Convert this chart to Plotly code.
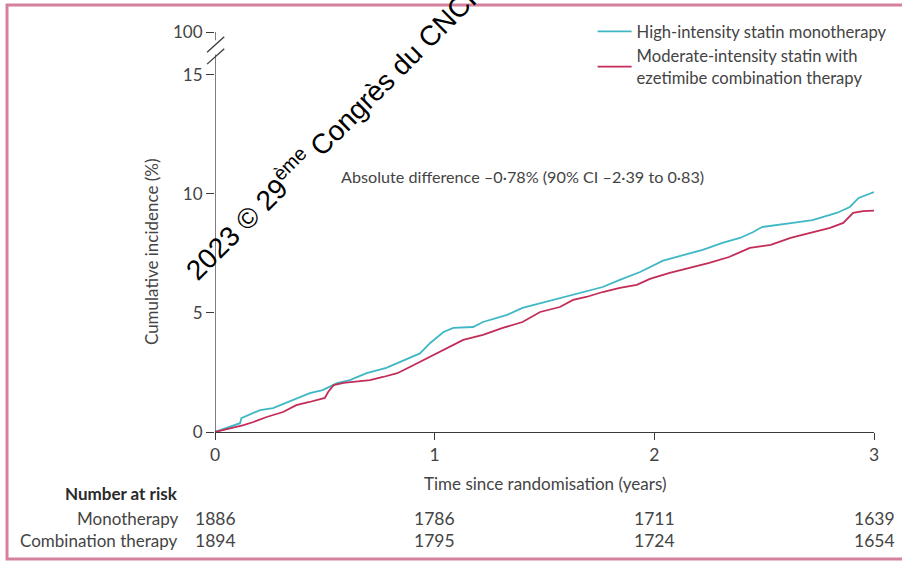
import plotly.graph_objects as go

# Kaplan-Meier style cumulative incidence (%) by treatment arm
mono_t = [0, 0.068, 0.114, 0.12, 0.205, 0.264, 0.355, 0.432, 0.49, 0.555, 0.614, 0.69, 0.78,
          0.887, 0.933, 0.98, 1.04, 1.085, 1.175, 1.22, 1.33, 1.4, 1.49, 1.585, 1.675, 1.765,
          1.843, 1.935, 2.04, 2.13, 2.22, 2.31, 2.39, 2.45, 2.49, 2.63, 2.72, 2.83, 2.89, 2.93, 3.0]
mono_y = [0, 0.22, 0.37, 0.58, 0.92, 1.0, 1.34, 1.63, 1.76, 2.05, 2.18, 2.47, 2.69,
          3.1, 3.3, 3.74, 4.2, 4.37, 4.41, 4.62, 4.92, 5.21, 5.42, 5.67, 5.88, 6.09,
          6.39, 6.72, 7.2, 7.44, 7.65, 7.94, 8.15, 8.4, 8.61, 8.78, 8.9, 9.2, 9.45, 9.83, 10.08]

combo_t = [0, 0.1, 0.13, 0.175, 0.235, 0.31, 0.37, 0.43, 0.5, 0.515, 0.54, 0.585, 0.705, 0.765,
           0.83, 0.887, 0.947, 1.02, 1.056, 1.13, 1.22, 1.31, 1.4, 1.48, 1.57, 1.63, 1.69, 1.765,
           1.843, 1.92, 1.98, 2.07, 2.16, 2.25, 2.34, 2.435, 2.53, 2.62, 2.71, 2.8, 2.86, 2.905,
           2.95, 3.0]
combo_y = [0, 0.22, 0.29, 0.42, 0.63, 0.84, 1.13, 1.26, 1.43, 1.68, 1.97, 2.06, 2.18, 2.31,
           2.47, 2.73, 3.02, 3.36, 3.53, 3.87, 4.08, 4.37, 4.62, 5.04, 5.25, 5.55, 5.67, 5.88,
           6.05, 6.18, 6.43, 6.68, 6.89, 7.1, 7.35, 7.73, 7.86, 8.15, 8.36, 8.57, 8.78, 9.2,
           9.28, 9.3]

series_names = ["High-intensity statin monotherapy",
                "Moderate-intensity statin with<br>ezetimibe combination therapy"]

# Number at risk table
risk_years = [0, 1, 2, 3]
risk_rows = ["Monotherapy", "Combination therapy"]
risk_mono = [1886, 1786, 1711, 1639]
risk_combo = [1894, 1795, 1724, 1654]

# y axis with a break: the top tick stands for 100%
y_tickvals = [0, 5, 10, 15, 16.8]
y_ticktext = ["0", "5", "10", "15", "100"]
x_tickvals = [0, 1, 2, 3]

CYAN = "#3fb7c4"
CRIMSON = "#c22d58"
AXIS = "#3a3a3a"
TXT = "#444444"
FONT = "Lato"

fig = go.Figure()
fig.add_trace(go.Scatter(x=mono_t, y=mono_y, mode="lines",
                         line=dict(color=CYAN, width=1.8), name=series_names[0]))
fig.add_trace(go.Scatter(x=combo_t, y=combo_y, mode="lines",
                         line=dict(color=CRIMSON, width=1.8), name=series_names[1]))


def note(text, x, y, xref="paper", yref="paper", size=17, color=TXT, **kw):
    base = dict(text=text, x=x, y=y, xref=xref, yref=yref, showarrow=False,
                xanchor="center", yanchor="middle",
                font=dict(size=size, color=color, family=FONT))
    base.update(kw)
    return base


annotations = [
    note("Absolute difference –0·78% (90% CI –2·39 to 0·83)", 1.40, 10.75,
         xref="x", yref="y", size=16.2),
    note("Time since randomisation (years)", 0.5, -0.1275, size=17),
    note("Cumulative incidence (%)", -0.097, 0.45, size=17, textangle=-90),
    note("<b>Number at risk</b>", -0.0531, -0.1525, size=17, color="#2a2a2a",
         xanchor="right"),
    dict(text="2023 © 29<sup>ème</sup> Congrès du CNCF", x=0.179, y=0.755,
         xref="paper", yref="paper", textangle=-45, showarrow=False,
         xanchor="center", yanchor="middle",
         font=dict(size=28, color="#000000", family="Liberation Sans")),
]
row_y = [-0.215, -0.27]
for label, counts, yy in zip(risk_rows, [risk_mono, risk_combo], row_y):
    annotations.append(note(label, -0.0531, yy, size=17, xanchor="right"))
    for t, n in zip(risk_years, counts):
        annotations.append(note(str(n), t, yy, xref="x", size=17.5))

# broken y axis line drawn as two segments plus the break slashes
line_style = dict(color=AXIS, width=1.3)
shapes = [
    dict(type="line", xref="x", yref="y", x0=0, x1=0, y0=0, y1=15.85, line=line_style),
    dict(type="line", xref="x", yref="y", x0=0, x1=0, y0=16.45, y1=16.8, line=line_style),
    dict(type="line", xref="paper", yref="y", x0=-0.012, x1=0.014, y0=15.95, y1=16.6,
         line=line_style),
    dict(type="line", xref="paper", yref="y", x0=-0.012, x1=0.014, y0=15.45, y1=16.1,
         line=line_style),
    # frame around the figure
    dict(type="rect", xref="paper", yref="paper", x0=-0.3156, x1=1.05, y0=-0.3175, y1=1.0675,
         line=dict(color="#d5809d", width=3)),
]

fig.update_layout(
    width=902, height=562,
    margin=dict(l=215, r=28, t=32, b=130, autoexpand=False),
    paper_bgcolor="white", plot_bgcolor="white",
    font=dict(family=FONT, color=TXT),
    showlegend=True,
    legend=dict(x=0.573, y=1.045, xanchor="left", yanchor="top", bgcolor="rgba(0,0,0,0)",
                font=dict(size=16.6, color=TXT, family=FONT), tracegroupgap=0,
                itemwidth=34),
    xaxis=dict(range=[0, 3], tickvals=x_tickvals, showline=True, linecolor=AXIS, linewidth=1.3,
               ticks="outside", ticklen=7, tickcolor=AXIS, showgrid=False, zeroline=False,
               tickfont=dict(size=17.5, color=TXT, family=FONT), fixedrange=True),
    yaxis=dict(range=[0, 16.8], tickvals=y_tickvals, ticktext=y_ticktext, showline=False,
               ticks="outside", ticklen=8, tickcolor=AXIS, showgrid=False, zeroline=False,
               tickfont=dict(size=17, color=TXT, family=FONT), fixedrange=True),
    annotations=annotations,
    shapes=shapes,
)

fig.write_html("out.html")
